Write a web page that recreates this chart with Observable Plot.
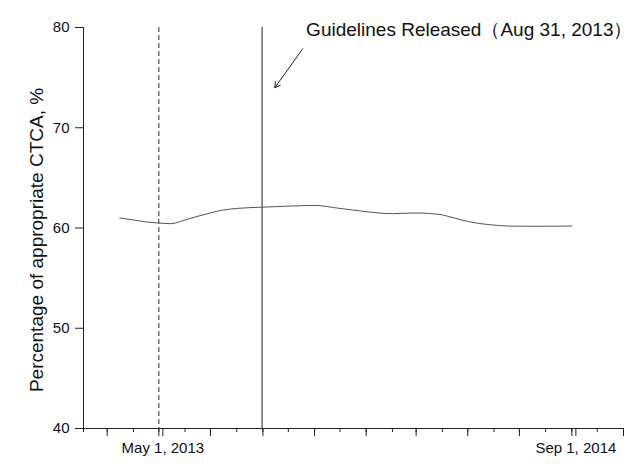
<!DOCTYPE html>
<html>
<head>
<meta charset="utf-8">
<script src="https://cdn.jsdelivr.net/npm/d3@7"></script>
<script src="https://cdn.jsdelivr.net/npm/@observablehq/plot@0.6"></script>
<style>
  html, body { margin: 0; padding: 0; background: #fff; }
</style>
</head>
<body>
<div id="chart"></div>
<script>
// Monthly share of appropriate coronary CT angiography (smoothed trend)
const lineDates = [
  "2013-03-16", "2013-04-01", "2013-04-15", "2013-05-01", "2013-05-15", "2013-06-01",
  "2013-06-15", "2013-07-01", "2013-07-15", "2013-08-01", "2013-09-01", "2013-10-01",
  "2013-11-01", "2013-12-01", "2013-12-21", "2014-01-15", "2014-02-01", "2014-03-01",
  "2014-03-28", "2014-04-15", "2014-05-01", "2014-05-27", "2014-06-20", "2014-07-15",
  "2014-08-15", "2014-09-01"
];
const lineValues = [
  61.0, 60.8, 60.62, 60.5, 60.43, 60.8,
  61.15, 61.5, 61.78, 61.95, 62.08, 62.18,
  62.25, 61.95, 61.75, 61.5, 61.43, 61.5,
  61.36, 61.0, 60.65, 60.33, 60.19, 60.17,
  60.18, 60.2
];

// Reference lines: study start (dashed) and guideline release (solid)
const eventDates = ["2013-05-01", "2013-08-31"];

// Axes
const xStart = "2013-02-01";
const xEnd = "2014-11-01";
const yTicks = [40, 50, 60, 70, 80];
const labelDates = ["2013-05-01", "2014-09-01"];
const tickLabels = ["May 1, 2013", "Sep 1, 2014"];
const yLabel = "Percentage of appropriate CTCA, %";

// Annotation
const noteText = "Guidelines Released（Aug 31, 2013）";
const noteDate = "2013-10-22";
const noteValue = 79.72;
const arrowFrom = { date: "2013-10-18", value: 77.88 };
const arrowTo = { date: "2013-09-15", value: 73.99 };

const parse = (s) => new Date(s);
const rows = lineDates.map((d, i) => ({ date: parse(d), value: lineValues[i] }));
const xDomain = [parse(xStart), parse(xEnd)];
const months = d3.utcMonth.range(xDomain[0], d3.utcDay.offset(xDomain[1], 1));
const majorTicks = months.filter((d) => d.getUTCMonth() % 2 === 0);
const labelTicks = labelDates.map(parse);
const fmt = (d) => tickLabels[labelTicks.findIndex((t) => +t === +d)] ?? "";

const chart = Plot.plot({
  width: 636,
  height: 464,
  marginLeft: 83,
  marginRight: 13,
  marginTop: 27,
  marginBottom: 36,
  style: { fontFamily: "'Liberation Sans', Arial, sans-serif", background: "#fff", color: "#111" },
  x: { type: "utc", domain: xDomain },
  y: { domain: [40, 80] },
  marks: [
    Plot.ruleX([parse(eventDates[0])], { stroke: "#333", strokeDasharray: "5,3" }),
    Plot.ruleX([parse(eventDates[1])], { stroke: "#222" }),
    Plot.line(rows, { x: "date", y: "value", curve: "monotone-x", stroke: "#555", strokeWidth: 1 }),
    Plot.ruleY([40], { stroke: "#222" }),
    Plot.ruleX([xDomain[0]], { stroke: "#222" }),
    Plot.axisY(yTicks, { tickSize: 8, tickPadding: 6, fontSize: 15, label: null, stroke: "#222" }),
    Plot.axisX(months, { tickSize: 4, tickFormat: () => "", label: null, stroke: "#222" }),
    Plot.axisX(majorTicks, { tickSize: 8, tickFormat: () => "", label: null, stroke: "#222" }),
    Plot.axisX(labelTicks, { tickSize: 8, tickPadding: 6, tickFormat: fmt, fontSize: 15, dx: 4, label: null, stroke: "#222" }),
    Plot.text([yLabel], { text: (d) => d, frameAnchor: "left", rotate: -90, dx: -41, dy: 12, textAnchor: "middle", lineAnchor: "bottom", fontSize: 19 }),
    Plot.arrow([{ from: arrowFrom, to: arrowTo }], {
      x1: (d) => parse(d.from.date), y1: (d) => d.from.value,
      x2: (d) => parse(d.to.date), y2: (d) => d.to.value,
      stroke: "#222", strokeWidth: 1, headLength: 9
    }),
    Plot.text([noteText], { x: parse(noteDate), y: noteValue, text: (d) => d, textAnchor: "start", fontSize: 19 })
  ]
});
document.getElementById("chart").appendChild(chart);
</script>
</body>
</html>
